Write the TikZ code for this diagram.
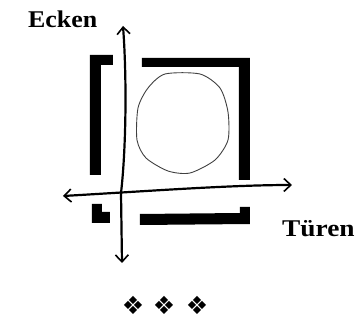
\documentclass[tikz,border=0pt]{standalone}
\usepackage{fontspec}
\setmainfont{Liberation Serif}
\newfontfamily\orn{DejaVu Sans}
\usetikzlibrary{arrows.meta}
\begin{document}
\begin{tikzpicture}[x=1pt,y=-1pt,
  wall/.style={fill=black,draw=none},
  axis/.style={line width=2.2pt,line cap=round,{Straight Barb[length=7pt,width=13pt,line width=1.6pt]}-{Straight Barb[length=7pt,width=13pt,line width=1.6pt]}},
  lbl/.style={font=\fontsize{24}{26}\selectfont\bfseries,inner sep=0pt},
  ornament/.style={font=\orn\fontsize{25}{26}\selectfont,inner sep=0pt}]
\useasboundingbox (0,0) rectangle (360,321);
% walls
\fill[wall] (90,55) -- (113,55) -- (113,65) -- (101,65) -- (101,175) -- (90,175) -- cycle;
\fill[wall] (142,58) -- (250,58) -- (250,180) -- (239,180) -- (239,67) -- (142,67) -- cycle;
\fill[wall] (140,214) -- (240,213) -- (240,207) -- (250,207) -- (250,224) -- (140,225) -- cycle;
\fill[wall] (92,204) -- (102,204) -- (102,212) -- (110,212) -- (110,223) -- (92,223) -- cycle;
% table
\draw[line width=0.9pt,black!75] plot[smooth cycle,tension=0.45] coordinates
  {(165,74) (200,74) (220,88) (228,112) (228,140) (215,160) (190,173) (168,171) (146,158) (137,140) (138,108) (148,88)};
% axes
\coordinate (vtop) at (123,26);
\coordinate (vbot) at (122,263);
\coordinate (hleft) at (63,196);
\coordinate (hright) at (292,185);
\draw[axis] (vbot) -- (121,193) .. controls (126,150) and (127,80) .. (vtop);
\draw[axis] (hleft) .. controls (150,191) and (230,185) .. (hright);
% labels
\node[lbl,anchor=base west] (ecken) at (28,28) {\scalebox{1.08}[1]{Ecken}};
\node[lbl,anchor=base west] (tueren) at (282,237) {\scalebox{1.14}[1]{Türen}};
% ornaments
\node[ornament] (o1) at (133,305) {❖};
\node[ornament] (o2) at (164,305) {❖};
\node[ornament] (o3) at (197,305) {❖};
\end{tikzpicture}
\end{document}
